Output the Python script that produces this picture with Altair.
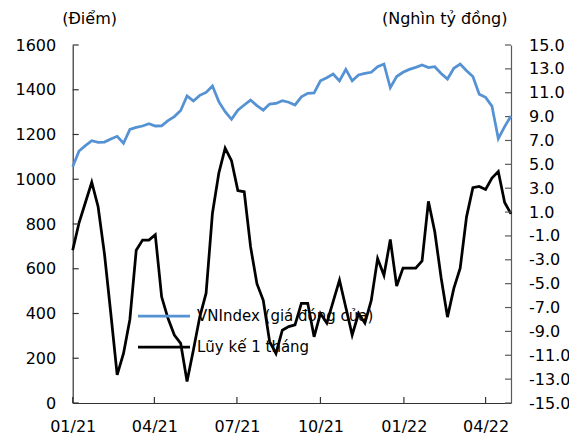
import altair as alt
import pandas as pd

# ---------------- data ----------------
dates = pd.date_range("2021-01-01", periods=70, freq="7D").strftime("%Y-%m-%dT00:00:00").tolist()

vnindex = [1056, 1126, 1150, 1172, 1165, 1166, 1180, 1192, 1161, 1223,
           1232, 1238, 1248, 1238, 1239, 1262, 1280, 1307, 1372, 1350,
           1375, 1388, 1417, 1347, 1302, 1268, 1309, 1332, 1354, 1329,
           1309, 1336, 1339, 1351, 1344, 1332, 1368, 1384, 1386, 1440,
           1454, 1470, 1439, 1491, 1440, 1466, 1473, 1478, 1503, 1515,
           1409, 1459, 1478, 1491, 1500, 1511, 1499, 1503, 1473, 1448,
           1496, 1515, 1485, 1459, 1380, 1366, 1327, 1181, 1235, 1283]

luyke = [-2.2, 0.1, 1.8, 3.5, 1.45, -2.5, -7.5, -12.65, -10.85, -8.0,
         -2.2, -1.35, -1.35, -0.9, -6.1, -7.9, -9.3, -10.0, -13.2, -10.55,
         -7.8, -5.8, 0.9, 4.25, 6.35, 5.3, 2.8, 2.7, -1.9, -5.0,
         -6.4, -9.85, -10.85, -8.9, -8.6, -8.45, -6.65, -6.65, -9.45, -7.5,
         -8.3, -6.5, -4.7, -7.0, -9.3, -7.5, -8.3, -6.4, -2.9, -4.3,
         -1.3, -5.2, -3.7, -3.7, -3.7, -3.1, 1.9, -0.65, -4.5, -7.8,
         -5.4, -3.7, 0.6, 3.05, 3.15, 2.9, 3.85, 4.4, 1.8, 0.85]

series_names = ["VNIndex (giá đóng cửa)", "Lũy kế 1 tháng"]
series_colors = ["#5592D3", "#000000"]

left_ticks = [0, 200, 400, 600, 800, 1000, 1200, 1400, 1600]
right_ticks = [-15, -13, -11, -9, -7, -5, -3, -1, 1, 3, 5, 7, 9, 11, 13, 15]
x_tick_dates = ["2021-01-01T00:00:00", "2021-04-01T00:00:00", "2021-07-01T00:00:00",
                "2021-10-01T00:00:00", "2022-01-01T00:00:00", "2022-04-01T00:00:00"]

left_title = "(Điểm)"
right_title = "(Nghìn tỷ đồng)"

# ---------------- layout ----------------
W, H = 438.3, 358
FONT = "DejaVu Sans"
AXIS_COLOR = "#333333"
RIGHT_AXIS_COLOR = "#5a5a5a"
TICK_LEN = 6

df_blue = pd.DataFrame({"date": dates, "value": vnindex, "series": series_names[0]})
df_black = pd.DataFrame({"date": dates, "value": luyke, "series": series_names[1]})
df_lt = pd.DataFrame({"value": left_ticks})
df_rt = pd.DataFrame({"value": right_ticks})
df_xt = pd.DataFrame({"date": x_tick_dates})

x_def = alt.X(
    "date:T",
    scale=alt.Scale(domain=[alt.DateTime(year=2021, month=1, date=1),
                            alt.DateTime(year=2022, month=4, date=29)]),
    axis=alt.Axis(
        values=[alt.DateTime(year=2021, month=1, date=1),
                alt.DateTime(year=2021, month=4, date=1),
                alt.DateTime(year=2021, month=7, date=1),
                alt.DateTime(year=2021, month=10, date=1),
                alt.DateTime(year=2022, month=1, date=1),
                alt.DateTime(year=2022, month=4, date=1)],
        format="%m/%y", title=None, grid=False, tickSize=0, labelPadding=15,
        labelFlush=False, labelOverlap=False, labelBound=False,
        domainColor=AXIS_COLOR, domainWidth=1.2, labelFontSize=16,
    ),
)

y_left = alt.Y(
    "value:Q",
    scale=alt.Scale(domain=[0, 1600], nice=False, zero=False),
    axis=alt.Axis(
        orient="left", values=left_ticks, format="d", grid=False, tickSize=0,
        labelPadding=17, labelOverlap=False, labelFontSize=16,
        domainColor=AXIS_COLOR, domainWidth=1.2,
        title=left_title, titleAngle=0, titleX=-11, titleY=-27,
        titleAlign="left", titleBaseline="middle",
    ),
)

y_right = alt.Y(
    "value:Q",
    scale=alt.Scale(domain=[-15, 15], nice=False, zero=False),
    axis=alt.Axis(
        orient="right", values=right_ticks, grid=False, tickSize=0,
        labelExpr="(datum.value < 0 ? '-' : '') + format(abs(datum.value), '.1f')",
        labelPadding=17.5, labelOverlap=False, labelFontSize=16,
        domainColor=RIGHT_AXIS_COLOR, domainWidth=1.2,
        title=right_title, titleAngle=0, titleX=-4, titleY=-27,
        titleAlign="right", titleBaseline="middle",
    ),
)

color_def = alt.Color(
    "series:N",
    scale=alt.Scale(domain=series_names, range=series_colors),
    legend=alt.Legend(
        title=None, orient="none", legendX=83.8, legendY=263.5,
        symbolType="M-5.2,0L5.2,0", symbolSize=100, symbolStrokeWidth=2.75,
        symbolOffset=0, labelOffset=25.5, labelFontSize=15, labelFont=FONT,
        labelColor="#000000", rowPadding=15, padding=0, labelLimit=400,
    ),
)

blue = alt.Chart(df_blue).mark_line(strokeWidth=2.75).encode(x=x_def, y=y_left, color=color_def)
left_tick_rules = alt.Chart(df_lt).mark_rule(color=AXIS_COLOR, strokeWidth=1.2).encode(
    y=y_left, x=alt.value(0), x2=alt.value(TICK_LEN))
x_tick_rules = alt.Chart(df_xt).mark_rule(color=AXIS_COLOR, strokeWidth=1.2).encode(
    x=x_def, y=alt.value(H), y2=alt.value(H - TICK_LEN))

black = alt.Chart(df_black).mark_line(strokeWidth=2.75).encode(x=x_def, y=y_right, color=color_def)
right_tick_rules = alt.Chart(df_rt).mark_rule(color=RIGHT_AXIS_COLOR, strokeWidth=1.2).encode(
    y=y_right, x=alt.value(W - TICK_LEN), x2=alt.value(W))

right_layer = alt.layer(black, right_tick_rules)
left_layer = alt.layer(blue, left_tick_rules, x_tick_rules)

chart = (
    alt.layer(right_layer, left_layer)
    .resolve_scale(y="independent")
    .properties(
        width=W, height=H,
        autosize=alt.AutoSizeParams(type="none"),
        padding={"left": 64.7, "top": 37, "right": 58, "bottom": 37},
    )
    .configure_view(stroke=None)
    .configure_axis(
        labelFont=FONT, titleFont=FONT, labelColor="#000000", titleColor="#000000",
        titleFontSize=16, titleFontWeight="normal",
    )
    .configure_legend(labelFont=FONT)
)

chart.save("out.html", embed_options={"renderer": "svg", "actions": False})
